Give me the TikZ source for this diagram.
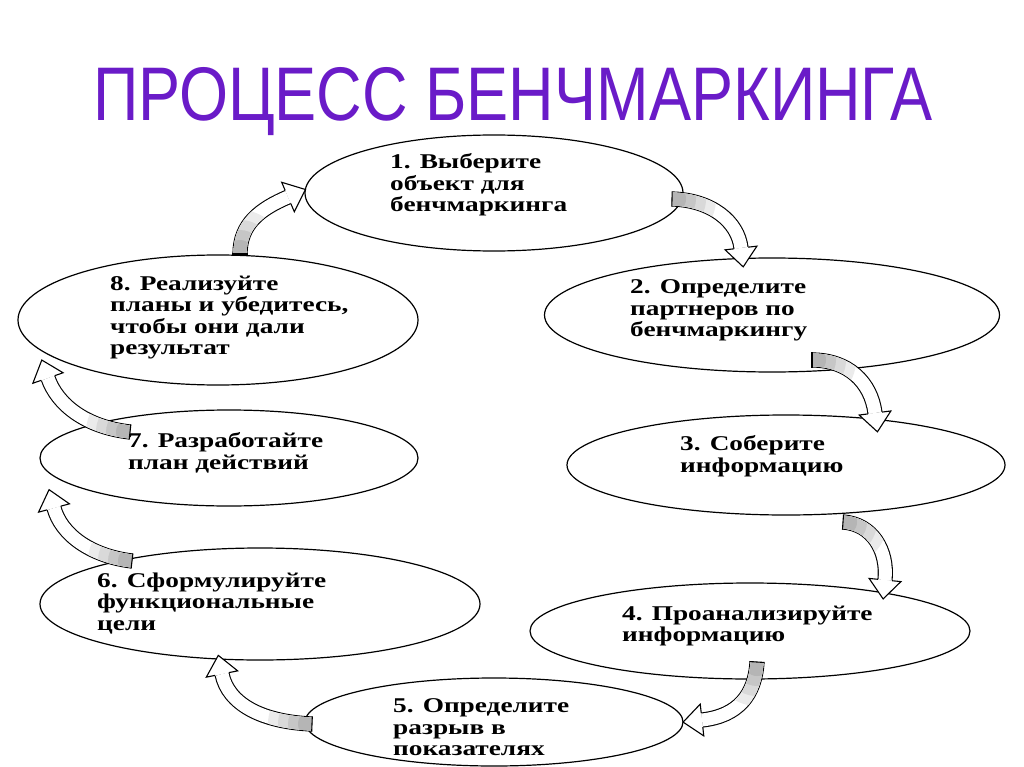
\documentclass[tikz,border=0pt]{standalone}
\usepackage{fontspec}
\usetikzlibrary{shapes.geometric}
\newfontfamily\boxfont{Liberation Serif}[FakeStretch=1.3]
\newfontfamily\titlefont{Liberation Sans}[FakeStretch=0.83]
\definecolor{titlepurple}{RGB}{106,27,200}
\tikzset{
  ell/.style={draw, line width=1.2pt, ellipse, inner sep=0pt},
  lbl/.style={anchor=north west, align=left, inner sep=0pt,
    font=\boxfont\bfseries\fontsize{21}{21.5}\selectfont},
  band/.style={line width=1.1pt, double=white, double distance=13pt},
  pics/ahead/.style={code={
    \fill[white] (0,-7) -- (0,-16) -- (19,0) -- (0,16) -- (0,7) -- cycle;
    \draw[line width=1.1pt, line join=miter] (0,-7.1) -- (0,-16) -- (19,0) -- (0,16) -- (0,7.1);
  }},
  pics/atail/.style={code={
    \draw[line width=1.1pt] (0,-7.6) -- (0,7.6);
  }}
}
\newcommand{\bendarrow}[4]{%
  \draw[band] (#1) .. controls (#2) and (#3) .. (#4);
  \foreach \r/\g in {44/16, 34/30, 24/45, 14/58} {
    \begin{scope}
      \clip (#1) circle (\r);
      \draw[line width=13pt, gray!\g] (#1) .. controls (#2) and (#3) .. (#4);
    \end{scope}
  }
  \path (#1) .. controls (#2) and (#3) .. (#4)
     pic[pos=0, sloped, allow upside down]{atail}
     pic[pos=1, sloped, allow upside down]{ahead};
}
\begin{document}
\begin{tikzpicture}[x=1pt,y=-1pt]
\useasboundingbox (0,0) rectangle (1024,767);
\fill[white] (0,0) rectangle (1024,767);

\node[text=titlepurple, font=\titlefont\fontsize{76}{80}\selectfont] (title) at (513,102) {ПРОЦЕСС БЕНЧМАРКИНГА};

% ellipses
\node[ell, minimum width=378pt, minimum height=116pt] (e1) at (494,193) {};
\node[ell, minimum width=455pt, minimum height=114pt] (e2) at (772,315) {};
\node[ell, minimum width=438pt, minimum height=100pt] (e3) at (786,465) {};
\node[ell, minimum width=440pt, minimum height=96pt]  (e4) at (750,631) {};
\node[ell, minimum width=378pt, minimum height=88pt]  (e5) at (494,722) {};
\node[ell, minimum width=440pt, minimum height=112pt] (e6) at (260,604) {};
\node[ell, minimum width=378pt, minimum height=96pt]  (e7) at (229,458) {};
\node[ell, minimum width=400pt, minimum height=130pt] (e8) at (218,320) {};

% texts
\node[lbl] (t1) at (390,153.5) {1. Выберите\\объект для\\бенчмаркинга};
\node[lbl] (t2) at (630,279.5) {2. Определите\\партнеров по\\бенчмаркингу};
\node[lbl] (t3) at (680,435.5) {3. Соберите\\информацию};
\node[lbl] (t4) at (622,605.5) {4. Проанализируйте\\информацию};
\node[lbl] (t5) at (393,698.5) {5. Определите\\разрыв в\\показателях};
\node[lbl] (t6) at (97,572.5) {6. Сформулируйте\\функциональные\\цели};
\node[lbl] (t7) at (128,432.5) {7. Разработайте\\план действий};
\node[lbl] (t8) at (110,275.5) {8. Реализуйте\\планы и убедитесь,\\чтобы они дали\\результат};

% arrows
\coordinate (a1s) at (672,199); \coordinate (a1e) at (741,248);
\bendarrow{a1s}{712,200}{738,222}{a1e}
\coordinate (a2s) at (812,360); \coordinate (a2e) at (875,413);
\bendarrow{a2s}{848,360}{871,382}{a2e}
\coordinate (a3s) at (843,522); \coordinate (a3e) at (885,580);
\bendarrow{a3s}{872,524}{888,550}{a3e}
\coordinate (a4s) at (757,662); \coordinate (a4e) at (702,720);
\bendarrow{a4s}{755,695}{738,716}{a4e}
\coordinate (a5s) at (312,724); \coordinate (a5e) at (222,674);
\bendarrow{a5s}{262,722}{228,704}{a5e}
\coordinate (a6s) at (132,561); \coordinate (a6e) at (54,508);
\bendarrow{a6s}{90,556}{61,534}{a6e}
\coordinate (a7s) at (130,432); \coordinate (a7e) at (48,378);
\bendarrow{a7s}{85,427}{57,404}{a7e}
\coordinate (a8s) at (240,254); \coordinate (a8e) at (288,197);
\bendarrow{a8s}{240,224}{260,209}{a8e}
\end{tikzpicture}
\end{document}
